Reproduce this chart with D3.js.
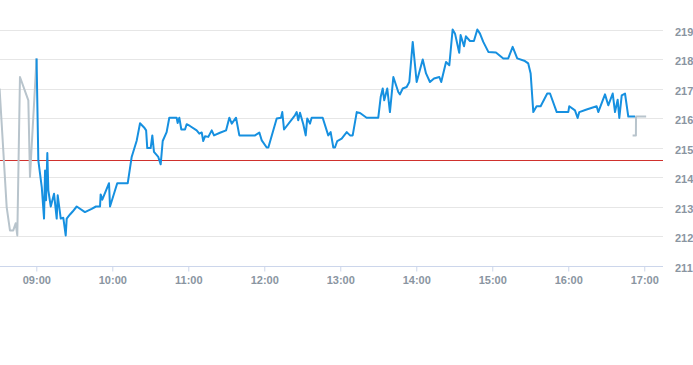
<!DOCTYPE html>
<html>
<head>
<meta charset="utf-8">
<script src="https://cdn.jsdelivr.net/npm/d3@7"></script>
<style>
  html, body { margin: 0; padding: 0; background: #ffffff; }
  svg { display: block; }
</style>
</head>
<body>
<div id="chart"></div>
<script>
// ---------------- DATA ----------------
const yTicks = [211, 212, 213, 214, 215, 216, 217, 218, 219];
const xTickLabels = ["09:00", "10:00", "11:00", "12:00", "13:00", "14:00", "15:00", "16:00", "17:00"];
const referenceValue = 214.59;

// pre-market (grey)
const preTimes = ["08:31.0", "08:36.6", "08:39.2", "08:41.8", "08:43.7", "08:45.0", "08:47.1", "08:53.7", "08:55.0", "09:00.2"];
const preValues = [217.0, 212.98, 212.19, 212.19, 212.43, 212.02, 217.39, 216.60, 214.00, 218.02];

// regular session (blue)
const sessionTimes = [
  "09:00.2","09:01.6","09:04.3","09:06.1","09:06.9","09:07.7","09:08.7","09:09.5","09:11.4","09:14.0",
  "09:16.1","09:16.9","09:19.3","09:21.3","09:23.2","09:24.0","09:26.6","09:28.7","09:31.9","09:38.4",
  "09:43.7","09:47.1","09:50.3","09:50.8","09:52.1","09:57.4","09:58.2","10:03.9","10:12.2","10:15.3",
  "10:19.3","10:21.9","10:25.1","10:26.7","10:27.6","10:30.3","10:31.6","10:32.9","10:36.3","10:38.2",
  "10:39.8","10:42.9","10:45.0","10:50.8","10:51.6","10:52.9","10:54.5","10:57.4","10:58.7","11:01.3",
  "11:06.6","11:08.7","11:10.6","11:11.8","11:13.2","11:15.8","11:18.5","11:20.3","11:25.0","11:29.8",
  "11:32.4","11:34.3","11:37.7","11:40.3","11:52.7","11:56.1","11:58.0","12:01.9","12:03.2","12:09.8",
  "12:13.2","12:14.2","12:15.6","12:24.2","12:25.6","12:26.8","12:28.2","12:30.8","12:32.7","12:33.9",
  "12:36.1","12:37.4","12:46.1","12:50.5","12:52.4","12:54.5","12:55.8","12:57.6","13:01.1","13:05.1",
  "13:07.7","13:09.8","13:13.0","13:15.6","13:20.8","13:30.0","13:31.9","13:33.5","13:34.7","13:37.1",
  "13:39.2","13:41.9","13:45.8","13:47.1","13:49.3","13:52.4","13:54.5","13:57.2","14:00.3","14:05.1",
  "14:07.7","14:10.8","14:14.0","14:18.2","14:19.7","14:23.5","14:26.1","14:28.7","14:30.6","14:33.9",
  "14:35.0","14:37.7","14:39.2","14:42.4","14:45.5","14:48.2","14:50.3","14:52.9","14:56.9","15:02.9",
  "15:08.7","15:12.6","15:16.1","15:19.7","15:25.8","15:28.4","15:30.3","15:32.4","15:35.0","15:38.2",
  "15:43.4","15:45.6","15:50.9","16:00.0","16:00.8","16:05.3","16:07.4","16:08.7","16:14.5","16:22.4",
  "16:23.7","16:29.0","16:31.6","16:35.1","16:36.9","16:39.0","16:40.3","16:42.2","16:44.8","16:47.4",
  "16:52.7"
];
const sessionValues = [
  218.02,214.56,213.66,212.59,214.22,213.21,214.81,213.55,213.00,213.43,
  212.59,213.38,212.59,212.62,212.02,212.59,212.73,212.83,213.00,212.81,
  212.92,213.00,213.00,213.41,213.23,213.79,213.00,213.79,213.79,214.68,
  215.24,215.82,215.68,215.58,214.98,214.98,215.41,214.85,214.68,214.43,
  215.22,215.52,216.01,216.01,215.83,216.01,215.61,215.61,215.79,215.73,
  215.58,215.47,215.51,215.22,215.38,215.36,215.58,215.41,215.50,215.58,
  216.01,215.81,216.01,215.41,215.41,215.51,215.24,215.00,215.00,215.98,
  216.01,216.20,215.61,216.09,216.20,215.92,216.18,215.79,215.41,215.98,
  215.81,216.01,216.01,215.41,215.52,215.00,215.00,215.22,215.30,215.52,
  215.41,215.41,216.20,216.17,216.01,216.01,216.71,217.00,216.60,217.00,
  216.20,217.39,216.88,216.80,217.00,217.05,217.22,218.58,217.22,217.98,
  217.51,217.22,217.34,217.39,217.22,217.90,217.79,219.00,218.86,218.21,
  218.81,218.43,218.77,218.61,218.61,219.00,218.86,218.58,218.24,218.22,
  218.02,218.02,218.41,218.02,217.93,217.85,217.51,216.20,216.40,216.40,
  216.83,216.83,216.20,216.20,216.40,216.26,216.00,216.20,216.29,216.40,
  216.20,216.80,216.43,216.83,216.20,216.62,216.00,216.77,216.83,216.05,
  216.05
];

// after-hours (grey)
const postTimes = ["16:50.8", "16:53.4", "16:53.5", "17:01.5"];
const postValues = [215.41, 215.41, 216.05, 216.05];

// ---------------- CHART ----------------
const W = 693, H = 365;
const plotLeft = 0, plotRight = 663, plotTop = 0, plotBottom = 265.5;

function parseT(s) {
  const [h, m] = s.split(":");
  const mins = parseFloat(m);
  return new Date(2024, 0, 2, +h, Math.floor(mins), Math.round((mins - Math.floor(mins)) * 60));
}
const pre = preTimes.map((t, i) => ({ t: parseT(t), v: preValues[i] }));
const session = sessionTimes.map((t, i) => ({ t: parseT(t), v: sessionValues[i] }));
const post = postTimes.map((t, i) => ({ t: parseT(t), v: postValues[i] }));

const x = d3.scaleTime()
  .domain([new Date(2024, 0, 2, 8, 31, 20), new Date(2024, 0, 2, 17, 14, 48)])
  .range([plotLeft, plotRight]);
const y = d3.scaleLinear().domain([211, 219]).range([265.5, 29.5]);

const svg = d3.select("#chart").append("svg").attr("width", W).attr("height", H);

svg.append("defs").append("clipPath").attr("id", "clip")
  .append("rect").attr("x", plotLeft).attr("y", plotTop)
  .attr("width", plotRight - plotLeft).attr("height", plotBottom - plotTop);

// grid
svg.append("g").selectAll("line").data(yTicks.slice(1)).join("line")
  .attr("x1", plotLeft).attr("x2", plotRight)
  .attr("y1", d => Math.round(y(d)) + 0.5).attr("y2", d => Math.round(y(d)) + 0.5)
  .attr("stroke", "#e6e6e6").attr("stroke-width", 1);

// y labels
svg.append("g").selectAll("text").data(yTicks).join("text")
  .attr("x", 675).attr("y", d => y(d) + 6)
  .attr("font-family", "'Liberation Sans', Arial, sans-serif")
  .attr("font-size", 11).attr("font-weight", "bold")
  .attr("fill", "#8a95a1")
  .text(d => d);

// x axis
const xTickDates = xTickLabels.map(s => parseT(s));
const xAxis = d3.axisBottom(x).tickValues(xTickDates).tickFormat((d, i) => xTickLabels[i]).tickSize(5).tickSizeOuter(0);
const gx = svg.append("g").attr("transform", `translate(0,${Math.round(y(211)) + 0.5})`).call(xAxis);
gx.select(".domain").attr("stroke", "#ccd6eb").attr("d", `M${plotLeft},0H${plotRight}`);
gx.selectAll(".tick line").attr("stroke", "#ccd6eb");
gx.selectAll(".tick text")
  .attr("y", 0).attr("dy", "17.5px")
  .attr("font-family", "'Liberation Sans', Arial, sans-serif")
  .attr("font-size", 11).attr("font-weight", "bold")
  .attr("fill", "#8a95a1");

// reference line
svg.append("line")
  .attr("x1", plotLeft).attr("x2", plotRight)
  .attr("y1", Math.round(y(referenceValue)) + 0.5).attr("y2", Math.round(y(referenceValue)) + 0.5)
  .attr("stroke", "#d0312d").attr("stroke-width", 1);

const line = d3.line().x(d => x(d.t)).y(d => y(d.v));
const g = svg.append("g").attr("clip-path", "url(#clip)");

g.append("path").datum(pre).attr("d", line)
  .attr("fill", "none").attr("stroke", "#b8c4cc").attr("stroke-width", 2).attr("stroke-linejoin", "round");
g.append("path").datum(post).attr("d", line)
  .attr("fill", "none").attr("stroke", "#b8c4cc").attr("stroke-width", 2).attr("stroke-linejoin", "round");
g.append("path").datum(session).attr("d", line)
  .attr("fill", "none").attr("stroke", "#1690e0").attr("stroke-width", 2).attr("stroke-linejoin", "round");
</script>
</body>
</html>
